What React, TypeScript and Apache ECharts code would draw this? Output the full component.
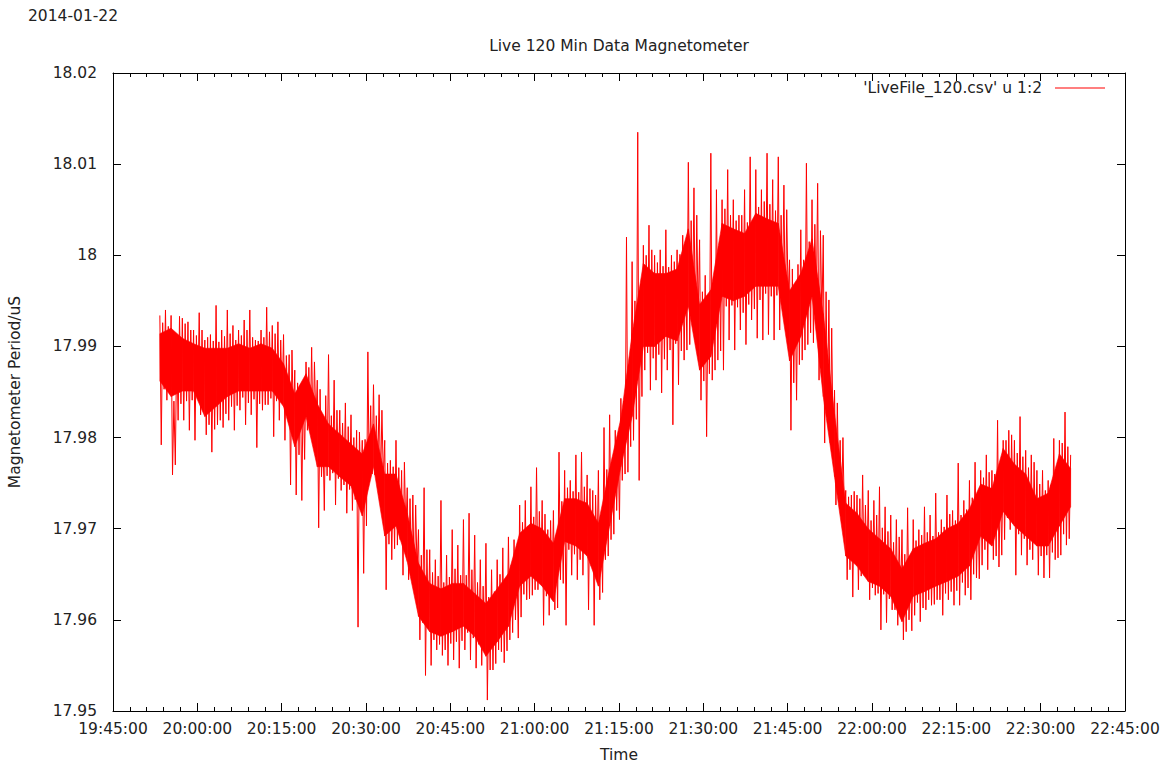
import React, { useEffect, useRef } from "react";
import * as echarts from "echarts";

// Sample times: seconds since midnight (first sample 19:53:20, every 15 s)
const START_SEC = 71600;
const SAMPLE_STEP = 15;
// Dense core of the trace, sampled every 2 minutes from the same start
const CORE_STEP = 120;

const X_MIN = 71100; // 19:45:00
const X_MAX = 81900; // 22:45:00
const X_INTERVAL = 900; // 15 min
const Y_MIN = 17.95;
const Y_MAX = 18.02;
const Y_INTERVAL = 0.01;

const SERIES_NAME = "'LiveFile_120.csv' u 1:2";
const TITLE = "Live 120 Min Data Magnetometer";
const DATE_TEXT = "2014-01-22";
const X_NAME = "Time";
const Y_NAME = "Magnetometer Period/uS";

// Magnetometer period readings (uS), 15 s apart (8 per row = 2 minutes)
const period = [
  17.9934, 17.9792, 17.9926, 17.9853, 17.994, 17.9841, 17.9922, 17.9848,
  17.9934, 17.9759, 17.984, 17.977, 17.9902, 17.9819, 17.9933, 17.9837,
  17.9931, 17.9819, 17.9925, 17.984, 17.9927, 17.9808, 17.9918, 17.9841,
  17.9918, 17.9797, 17.9912, 17.9844, 17.9937, 17.9825, 17.9918, 17.9838,
  17.9907, 17.9803, 17.991, 17.9814, 17.9913, 17.9784, 17.9906, 17.9809,
  17.9945, 17.9814, 17.9905, 17.9819, 17.9918, 17.9811, 17.9911, 17.9826,
  17.994, 17.9819, 17.9914, 17.9834, 17.9923, 17.9808, 17.9907, 17.9835,
  17.9918, 17.983, 17.9912, 17.9844, 17.9929, 17.9814, 17.9918, 17.9838,
  17.994, 17.9825, 17.991, 17.9842, 17.9907, 17.9789, 17.9906, 17.9837,
  17.9918, 17.983, 17.991, 17.9836, 17.9943, 17.9836, 17.9916, 17.9843,
  17.9923, 17.9801, 17.9914, 17.984, 17.9927, 17.9819, 17.9907, 17.9841,
  17.9913, 17.9797, 17.989, 17.9827, 17.9891, 17.9748, 17.9896, 17.9821,
  17.9874, 17.9737, 17.986, 17.9781, 17.9858, 17.9731, 17.9856, 17.9776,
  17.9883, 17.9808, 17.9877, 17.9808, 17.9899, 17.9797, 17.9883, 17.9815,
  17.9863, 17.9701, 17.9853, 17.9757, 17.9808, 17.972, 17.9846, 17.9758,
  17.9891, 17.9753, 17.9824, 17.9761, 17.9863, 17.9726, 17.983, 17.9755,
  17.983, 17.9742, 17.9816, 17.9748, 17.9838, 17.9717, 17.9812, 17.9743,
  17.9825, 17.972, 17.98, 17.9732, 17.9808, 17.9592, 17.9806, 17.9739,
  17.9797, 17.9651, 17.9798, 17.9703, 17.9894, 17.9753, 17.9835, 17.976,
  17.9858, 17.9759, 17.9824, 17.9761, 17.9847, 17.9748, 17.983, 17.9755,
  17.9797, 17.9633, 17.9772, 17.9683, 17.9775, 17.9666, 17.9768, 17.9678,
  17.9797, 17.9682, 17.9767, 17.9688, 17.9764, 17.9649, 17.9773, 17.9695,
  17.9745, 17.9644, 17.9733, 17.9653, 17.9737, 17.9636, 17.9726, 17.9654,
  17.9699, 17.9578, 17.9671, 17.9597, 17.9745, 17.9539, 17.9677, 17.9591,
  17.9677, 17.955, 17.9652, 17.9578, 17.9666, 17.9567, 17.9648, 17.9573,
  17.9731, 17.9561, 17.9641, 17.9567, 17.9671, 17.955, 17.9647, 17.9574,
  17.9699, 17.9556, 17.9656, 17.9576, 17.9682, 17.9547, 17.9649, 17.9577,
  17.971, 17.9567, 17.9649, 17.9586, 17.9717, 17.9556, 17.9655, 17.958,
  17.9693, 17.9547, 17.9641, 17.9573, 17.9666, 17.955, 17.9637, 17.9568,
  17.9684, 17.9512, 17.9625, 17.9545, 17.9655, 17.9545, 17.9631, 17.9552,
  17.9666, 17.9567, 17.965, 17.9565, 17.9679, 17.9553, 17.9643, 17.9566,
  17.9691, 17.9578, 17.966, 17.9586, 17.9688, 17.96, 17.9666, 17.958,
  17.9726, 17.9603, 17.9707, 17.9628, 17.9731, 17.9622, 17.9703, 17.9623,
  17.9746, 17.9627, 17.9713, 17.9633, 17.9767, 17.9633, 17.9719, 17.964,
  17.9731, 17.9594, 17.9716, 17.9626, 17.9699, 17.9605, 17.9709, 17.9627,
  17.972, 17.9611, 17.9693, 17.9613, 17.9784, 17.9644, 17.973, 17.964,
  17.9764, 17.9594, 17.9745, 17.9677, 17.9753, 17.9649, 17.9741, 17.9672,
  17.9781, 17.9644, 17.974, 17.9666, 17.9784, 17.9649, 17.9746, 17.9673,
  17.9759, 17.9611, 17.9744, 17.9659, 17.9742, 17.9594, 17.9737, 17.966,
  17.9764, 17.9622, 17.9715, 17.963, 17.9811, 17.9666, 17.9765, 17.967,
  17.9825, 17.9688, 17.9778, 17.9694, 17.9808, 17.972, 17.979, 17.971,
  17.9843, 17.9753, 17.984, 17.976, 18.002, 17.9762, 17.988, 17.979,
  17.9993, 17.9797, 17.995, 17.982, 18.0135, 17.9753, 17.996, 17.9845,
  18.0011, 17.9874, 18.0, 17.9893, 18.0033, 17.9852, 18.0006, 17.9887,
  18.0, 17.9863, 17.9992, 17.9891, 18.0006, 17.9849, 17.9988, 17.9886,
  18.0028, 17.9874, 17.9987, 17.9896, 18.0, 17.9814, 17.9993, 17.9903,
  18.0006, 17.9858, 18.0001, 17.9895, 18.0022, 17.9885, 17.9994, 17.9896,
  18.0102, 17.9902, 18.0038, 17.9937, 18.0074, 17.9907, 18.0044, 17.9931,
  18.0017, 17.9841, 17.996, 17.9862, 17.9978, 17.9801, 17.9955, 17.987,
  18.0112, 17.9863, 17.9976, 17.9874, 18.0072, 17.9885, 18.001, 17.9895,
  18.0061, 17.9874, 18.0051, 17.9944, 18.0094, 17.9907, 18.0044, 17.9945,
  18.0061, 17.9896, 18.0038, 17.9943, 18.0044, 17.9918, 18.0044, 17.9937,
  18.0072, 17.9902, 18.0036, 17.9946, 18.0108, 17.9929, 18.0032, 17.9941,
  18.0094, 17.9909, 18.0053, 17.9951, 18.0072, 17.9907, 18.0059, 17.9958,
  18.0112, 17.9913, 18.0056, 17.9955, 18.0083, 17.9907, 18.0049, 17.9956,
  18.0108, 17.9918, 18.0044, 17.9959, 18.0077, 17.9929, 18.005, 17.9953,
  17.9995, 17.9808, 17.9985, 17.986, 17.9962, 17.9841, 17.999, 17.988,
  18.0028, 17.9885, 17.9995, 17.9896, 18.0101, 17.9902, 18.0015, 17.9915,
  18.0061, 17.9904, 18.0034, 17.9944, 18.0079, 17.9863, 18.0027, 17.993,
  18.0022, 17.9794, 17.996, 17.983, 17.9951, 17.9794, 17.992, 17.979,
  17.9852, 17.9726, 17.9838, 17.974, 17.9797, 17.972, 17.98, 17.9715,
  17.9742, 17.9644, 17.9735, 17.9655, 17.9737, 17.9625, 17.9741, 17.9662,
  17.9737, 17.9633, 17.9733, 17.9648, 17.9759, 17.9649, 17.9726, 17.9649,
  17.9742, 17.9622, 17.9709, 17.9635, 17.9731, 17.9627, 17.9715, 17.9629,
  17.9746, 17.9589, 17.9701, 17.9628, 17.9724, 17.9597, 17.9697, 17.9623,
  17.9715, 17.9611, 17.9685, 17.9611, 17.971, 17.9594, 17.9691, 17.9618,
  17.9699, 17.9578, 17.9672, 17.9587, 17.9723, 17.96, 17.9665, 17.9588,
  17.971, 17.9605, 17.9687, 17.9619, 17.9699, 17.9598, 17.9693, 17.9613,
  17.9724, 17.9611, 17.9696, 17.9622, 17.9715, 17.9616, 17.9692, 17.9617,
  17.9739, 17.9622, 17.9696, 17.9622, 17.971, 17.9605, 17.9702, 17.9629,
  17.9737, 17.9622, 17.9716, 17.9631, 17.972, 17.9616, 17.9709, 17.9632,
  17.9772, 17.9616, 17.9715, 17.9641, 17.9731, 17.9627, 17.9721, 17.9635,
  17.9753, 17.9622, 17.9734, 17.965, 17.9773, 17.9646, 17.973, 17.9645,
  17.9764, 17.966, 17.9756, 17.9677, 17.9781, 17.9655, 17.9762, 17.9684,
  17.9764, 17.9666, 17.976, 17.967, 17.9819, 17.9658, 17.9753, 17.9671,
  17.9797, 17.9688, 17.9797, 17.9712, 17.9808, 17.9699, 17.9803, 17.9706,
  17.9797, 17.9649, 17.9783, 17.9694, 17.9823, 17.9671, 17.9779, 17.9689,
  17.9786, 17.966, 17.9767, 17.9677, 17.9781, 17.9666, 17.9773, 17.9684,
  17.9764, 17.9649, 17.9749, 17.967, 17.9764, 17.9646, 17.9742, 17.9671,
  17.9753, 17.9646, 17.9748, 17.9674, 17.9799, 17.9666, 17.9754, 17.9668,
  17.9797, 17.9671, 17.9794, 17.9694, 17.9828, 17.9682, 17.979, 17.9689,
  17.9781,
];

// Upper / lower edge of the solid core of the trace, 2 min apart
const coreHigh = [
  17.9914, 17.992, 17.9909, 17.9903, 17.9898, 17.9898, 17.9898, 17.9903, 17.9898, 17.9903,
  17.9898, 17.9881, 17.9848, 17.987, 17.9837, 17.9815, 17.9804, 17.9793, 17.9782, 17.9815,
  17.976, 17.976, 17.9717, 17.9662, 17.964, 17.9634, 17.964, 17.964, 17.9629, 17.9618,
  17.9634, 17.9651, 17.9695, 17.9706, 17.97, 17.9684, 17.9733, 17.9733, 17.9728, 17.9706,
  17.9766, 17.9821, 17.9914, 17.9991, 17.998, 17.998, 17.9985, 18.0029, 17.9946, 17.9962,
  18.0035, 18.0029, 18.0024, 18.0046, 18.004, 18.0035, 17.9961, 17.998, 18.0018, 17.9936,
  17.9826, 17.9728, 17.9717, 17.97, 17.9689, 17.9678, 17.9656, 17.9678, 17.9684, 17.9689,
  17.97, 17.9706, 17.9722, 17.9749, 17.9744, 17.9788, 17.9771, 17.976, 17.9733, 17.9739,
  17.9782, 17.9766,
];
const coreLow = [
  17.9862, 17.9845, 17.9851, 17.9851, 17.9823, 17.9834, 17.9845, 17.9851, 17.9851, 17.9851,
  17.9851, 17.9834, 17.979, 17.9823, 17.9768, 17.9768, 17.9757, 17.9747, 17.9714, 17.9768,
  17.9692, 17.9703, 17.9664, 17.9604, 17.9587, 17.9582, 17.9587, 17.9593, 17.9582, 17.956,
  17.9576, 17.9593, 17.9637, 17.9648, 17.9637, 17.962, 17.9686, 17.9681, 17.967, 17.9637,
  17.9703, 17.9768, 17.9823, 17.99, 17.99, 17.9911, 17.9906, 17.9944, 17.9874, 17.9889,
  17.9955, 17.995, 17.9955, 17.9966, 17.9966, 17.9966, 17.9884, 17.9911, 17.9955, 17.9845,
  17.9757, 17.967, 17.9659, 17.9642, 17.9637, 17.9626, 17.9598, 17.9626, 17.9631, 17.9637,
  17.9642, 17.9648, 17.9659, 17.9692, 17.9681, 17.9719, 17.9703, 17.9692, 17.9681, 17.9681,
  17.9703, 17.9724,
];

const FONT = "DejaVu Sans";
const FONT_SIZE = 15.5;
const TEXT_COLOR = "#222";
const RED = "#ff0000";

function fmtTime(v: number): string {
  const s = Math.round(v);
  const hh = Math.floor(s / 3600);
  const mm = Math.floor((s % 3600) / 60);
  const ss = s % 60;
  const p = (n: number) => (n < 10 ? "0" + n : "" + n);
  return p(hh) + ":" + p(mm) + ":" + p(ss);
}

function fmtValue(v: number): string {
  return String(Math.round(v * 100) / 100);
}

export default function App() {
  const ref = useRef<HTMLDivElement>(null);

  useEffect(() => {
    if (!ref.current) return;
    const chart = echarts.init(ref.current, undefined, { renderer: "svg" });

    const lineData = period.map((v, i) => [START_SEC + i * SAMPLE_STEP, v]);
    // one quad per 2-minute interval of the core band
    const bandData: number[][] = [];
    for (let k = 0; k < coreLow.length - 1; k++) {
      bandData.push([
        START_SEC + k * CORE_STEP,
        coreLow[k],
        coreHigh[k],
        START_SEC + (k + 1) * CORE_STEP,
        coreLow[k + 1],
        coreHigh[k + 1],
      ]);
    }

    const axisLine = { show: true, onZero: false, lineStyle: { color: "#000", width: 1 } };

    const baseX = {
      type: "value",
      min: X_MIN,
      max: X_MAX,
      interval: X_INTERVAL,
      axisLine,
      axisTick: { show: true, inside: true, length: 8, lineStyle: { color: "#000" } },
      minorTick: { show: true, splitNumber: 5, length: 4, lineStyle: { color: "#000" } },
      splitLine: { show: false },
    };
    const baseY = {
      type: "value",
      min: Y_MIN,
      max: Y_MAX,
      interval: Y_INTERVAL,
      axisLine,
      axisTick: { show: true, inside: true, length: 8, lineStyle: { color: "#000" } },
      splitLine: { show: false },
    };

    chart.setOption({
      animation: false,
      textStyle: { fontFamily: FONT },
      title: {
        text: TITLE,
        left: 619,
        textAlign: "center",
        top: 38,
        padding: 0,
        textStyle: { fontSize: FONT_SIZE, fontWeight: "normal", color: TEXT_COLOR, fontFamily: FONT },
      },
      legend: {
        data: [SERIES_NAME],
        right: 58,
        top: 80,
        align: "right",
        icon: "rect",
        itemWidth: 50,
        itemHeight: 1,
        padding: 0,
        textStyle: { fontSize: FONT_SIZE, color: TEXT_COLOR, fontFamily: FONT, padding: [0, 8, 0, 0] },
      },
      graphic: [
        {
          type: "text",
          left: 28,
          top: 8,
          style: { text: DATE_TEXT, fontSize: FONT_SIZE, fill: TEXT_COLOR, fontFamily: FONT },
        },
      ],
      grid: { left: 113, right: 38, top: 73, bottom: 53, outerBoundsMode: "none", containLabel: false },
      xAxis: [
        {
          ...baseX,
          position: "bottom",
          name: X_NAME,
          nameLocation: "middle",
          nameGap: 36,
          nameTextStyle: { fontSize: FONT_SIZE, color: TEXT_COLOR, fontFamily: FONT },
          axisLabel: { show: true, margin: 10, fontSize: FONT_SIZE, color: TEXT_COLOR, fontFamily: FONT, formatter: fmtTime },
        },
        {
          ...baseX,
          position: "top",
          axisLabel: { show: false },
        },
      ],
      yAxis: [
        {
          ...baseY,
          position: "left",
          name: Y_NAME,
          nameLocation: "middle",
          nameGap: 90,
          nameRotate: 90,
          nameTextStyle: { fontSize: FONT_SIZE, color: TEXT_COLOR, fontFamily: FONT },
          axisLabel: { show: true, margin: 16, fontSize: FONT_SIZE, color: TEXT_COLOR, fontFamily: FONT, formatter: fmtValue },
        },
        {
          ...baseY,
          position: "right",
          axisLabel: { show: false },
        },
      ],
      series: [
        {
          name: "core-band",
          type: "custom",
          xAxisIndex: 0,
          yAxisIndex: 0,
          data: bandData,
          encode: { x: [0, 3], y: [1, 2, 4, 5] },
          silent: true,
          renderItem: (_params: any, api: any) => {
            const p1 = api.coord([api.value(0), api.value(2)]);
            const p2 = api.coord([api.value(3), api.value(5)]);
            const p3 = api.coord([api.value(3), api.value(4)]);
            const p4 = api.coord([api.value(0), api.value(1)]);
            return {
              type: "polygon",
              shape: { points: [p1, p2, p3, p4] },
              style: { fill: RED, stroke: RED, lineWidth: 0.6 },
            };
          },
        },
        {
          name: SERIES_NAME,
          type: "line",
          xAxisIndex: 0,
          yAxisIndex: 0,
          data: lineData,
          symbol: "none",
          color: RED,
          lineStyle: { color: RED, width: 1 },
          silent: true,
        },
      ],
    });

    return () => chart.dispose();
  }, []);

  return (
    <div
      ref={ref}
      style={{ position: "fixed", left: 0, top: 0, width: 1163, height: 764, background: "#fff" }}
    />
  );
}
